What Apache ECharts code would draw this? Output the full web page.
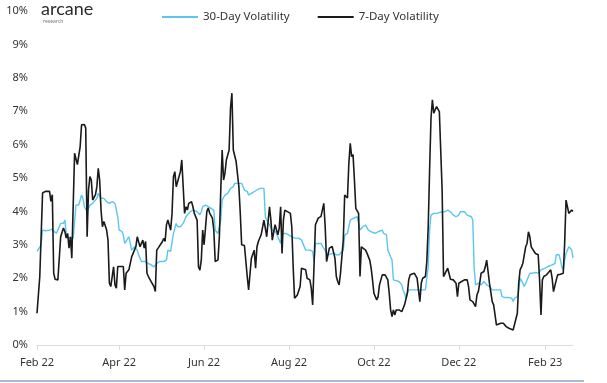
<!DOCTYPE html>
<html>
<head>
<meta charset="utf-8">
<script src="https://cdn.jsdelivr.net/npm/echarts@6/dist/echarts.min.js"></script>
<style>
  html, body { margin: 0; padding: 0; background: #fff; }
  #chart { width: 607px; height: 383px; }
</style>
</head>
<body>
<div id="chart"></div>
<script>
// ---- data ----
const startDate = '2022-02-01';
const dayCount = 386; // 2022-02-01 .. 2023-02-21

const tickDates = ['2022-02-01', '2022-04-01', '2022-06-01', '2022-08-01', '2022-10-01', '2022-12-01', '2023-02-01'];
const tickLabels = ['Feb 22', 'Apr 22', 'Jun 22', 'Aug 22', 'Oct 22', 'Dec 22', 'Feb 23'];

const yTicks = [0, 1, 2, 3, 4, 5, 6, 7, 8, 9, 10];

const seriesNames = ['30-Day Volatility', '7-Day Volatility'];

// day offsets (from startDate) and values (%) for 7-day volatility
const days7 = [0,2,3,4,6,9,10,11,12,13,15,17,18,19,20,21,22,23,24,25,26,27,29,30,31,32,34,35,36,37,38,39,40,42,43,44,45,46,47,48,50,51,52,53,55,56,57,58,60,62,63,64,66,67,68,70,71,72,74,76,77,78,79,80,82,83,84,85,86,87,90,91,92,93,94,96,97,98,99,100,101,103,104,105,106,107,108,109,111,112,113,115,116,117,118,119,120,121,122,123,124,125,126,127,128,130,131,132,133,134,135,136,137,138,139,140,141,142,143,145,146,147,149,150,151,152,154,155,156,157,158,159,161,163,164,165,167,168,169,170,171,173,174,175,176,177,178,179,182,183,184,185,187,189,190,191,193,194,196,197,198,199,200,201,202,204,205,206,207,208,209,210,212,213,214,215,216,217,218,219,220,221,222,223,224,225,226,227,228,229,230,231,232,233,234,236,237,239,240,241,242,244,245,246,247,248,250,252,253,254,255,256,257,258,259,260,262,263,264,266,267,268,269,271,272,273,274,275,276,277,279,280,281,282,283,284,285,286,287,288,289,291,292,293,295,297,299,301,302,303,304,305,307,308,309,310,311,312,313,315,316,317,318,319,321,322,323,324,325,326,327,328,329,330,331,333,334,335,336,337,339,340,342,343,345,346,347,348,349,351,352,353,354,355,356,358,360,361,362,363,364,366,367,369,370,371,372,373,374,376,378,379,380,381,382,383,384,385];
const vol7 = [0.95,2.05,2.1,4.55,4.6,4.6,4.3,4.5,2.15,1.97,1.95,3.24,3.24,3.5,3.4,3.2,3.34,2.9,3.24,2.6,2.55,5.74,5.4,5.35,5.94,6.59,6.6,6.5,3.24,4.64,5.04,4.94,4.34,4.5,4.74,5.29,4.94,4.04,3.54,3.7,3.44,3.14,1.85,1.75,2.34,1.8,1.7,2.35,2.35,2.35,1.65,2.15,2.25,2.2,2.64,2.84,2.94,3.24,2.94,3.14,2.9,3.1,2.15,2.05,1.9,1.85,1.75,1.6,2.84,2.9,3.09,3.19,3.1,3.6,3.74,3.44,3.94,5.04,5.19,4.74,4.7,5.19,5.54,5.59,3.94,4.14,4.04,4.24,4.29,4.14,3.94,3.74,2.34,2.24,2.54,3.44,3.0,3.5,4.0,4.1,3.95,4.0,3.8,3.44,2.5,2.55,3.24,4.64,5.84,4.94,5.14,5.54,5.69,5.84,7.1,7.54,5.84,5.8,5.5,4.74,3.95,3.0,2.98,2.94,2.05,1.65,2.6,2.55,2.84,2.3,2.94,3.1,3.3,3.74,3.5,3.24,4.14,3.74,3.14,3.1,3.6,3.3,3.5,4.14,2.74,3.74,4.04,4.0,3.94,3.54,2.34,1.4,1.5,1.75,2.3,2.3,2.25,2.0,1.95,1.7,1.2,1.15,3.6,3.65,3.8,3.85,3.9,4.24,3.54,2.5,2.7,2.9,2.95,2.96,2.6,2.05,1.9,1.8,2.15,2.1,3.14,4.49,4.45,4.4,5.44,6.04,5.64,5.7,4.94,4.09,4.04,3.94,2.05,2.94,2.9,2.84,2.75,2.54,2.3,1.95,1.55,1.35,1.45,1.8,1.95,2.1,2.1,1.95,1.55,1.05,0.85,1.05,0.9,1.05,1.0,1.05,1.0,1.1,1.2,1.55,1.95,2.1,2.12,2.15,2.15,2.0,1.95,1.3,1.85,2.0,2.05,2.5,3.54,5.24,6.79,7.34,6.94,6.94,7.14,7.1,6.99,4.64,2.05,2.05,2.3,1.97,1.95,1.85,1.45,1.85,1.85,1.9,1.95,1.9,1.95,1.75,1.35,1.33,1.3,1.15,1.5,1.6,1.85,2.15,2.2,2.34,2.54,2.2,1.85,1.8,1.3,1.2,1.15,0.6,0.6,0.65,0.6,0.65,0.6,0.55,0.5,0.45,0.45,0.5,0.95,1.85,2.25,2.34,2.45,2.94,3.04,3.39,3.24,2.94,2.94,2.74,2.7,1.95,0.9,1.95,2.05,2.1,2.15,2.25,2.0,1.6,1.55,1.95,2.1,2.12,2.15,3.04,4.34,4.3,3.94,3.9,4.04,4.0];

// day offsets (from startDate) and values (%) for 30-day volatility
const days30 = [0,1,3,4,6,9,11,12,14,15,17,18,19,20,21,22,24,25,26,28,30,31,32,33,34,36,37,38,40,43,44,45,46,48,49,50,52,54,56,57,58,59,61,62,63,64,66,67,68,69,70,71,72,73,75,78,80,82,84,86,88,91,93,94,96,97,98,100,101,103,105,107,108,110,112,115,116,117,118,119,121,122,123,124,125,127,128,130,131,132,133,134,135,137,139,141,142,145,147,148,149,151,152,153,154,155,158,160,163,164,165,166,167,169,171,172,173,175,176,177,179,180,183,185,188,190,191,193,196,198,199,200,204,205,206,207,209,210,213,215,217,218,220,221,223,224,225,227,228,230,231,232,233,234,236,237,238,240,243,245,246,248,249,251,252,254,255,256,257,260,262,263,264,265,266,267,272,276,279,280,281,282,283,285,287,288,291,293,295,297,299,301,303,304,307,309,310,312,313,314,315,317,318,319,321,322,323,324,325,327,329,331,333,334,336,339,341,342,343,345,346,347,348,349,350,351,352,354,356,358,360,362,365,367,370,372,373,375,376,377,378,379,380,382,383,384,385];
const vol30 = [2.8,2.85,3.0,3.44,3.42,3.44,3.47,3.4,3.35,3.4,3.64,3.69,3.64,3.74,3.35,3.24,3.2,3.24,3.2,4.19,4.19,4.24,4.49,4.39,4.14,3.99,4.09,4.19,4.24,4.39,4.54,4.5,4.39,4.39,4.34,4.29,4.24,4.29,4.24,4.24,3.84,3.44,3.4,3.3,3.04,3.04,3.24,3.2,2.84,2.8,2.94,2.94,2.84,2.7,2.5,2.5,2.44,2.4,2.34,2.44,2.5,2.5,2.54,2.84,2.8,2.8,3.34,3.64,3.55,3.54,3.64,3.84,3.88,3.99,4.04,3.99,3.94,3.9,3.99,4.14,4.19,4.24,4.14,4.14,4.09,4.04,3.44,3.34,3.3,3.74,4.34,4.39,4.49,4.54,4.69,4.74,4.84,4.84,4.84,4.74,4.64,4.6,4.49,4.44,4.54,4.59,4.64,4.69,4.69,3.84,3.74,3.79,3.6,3.44,3.4,3.34,3.24,3.04,3.34,3.39,3.34,3.3,3.24,3.2,3.2,3.14,3.15,2.84,2.84,2.8,2.5,3.04,3.04,2.99,2.89,2.94,2.7,2.75,2.75,2.7,2.7,2.75,2.84,3.29,3.34,3.34,3.74,3.79,3.79,3.84,3.84,3.44,3.39,3.54,3.59,3.54,3.44,3.39,3.34,3.39,3.44,3.44,3.34,3.3,2.84,2.64,2.55,1.95,1.95,1.9,1.8,1.64,1.55,1.4,1.55,1.65,1.65,1.65,1.65,1.7,2.34,3.44,3.89,3.94,3.94,3.99,3.99,3.99,4.04,3.99,3.89,3.84,3.89,3.99,3.99,3.89,3.89,3.84,3.74,2.3,1.8,1.85,1.83,1.8,1.9,1.9,1.8,1.8,1.75,1.65,1.65,1.65,1.65,1.45,1.42,1.42,1.4,1.3,1.4,1.45,1.65,2.0,1.95,1.85,1.75,1.85,1.85,2.15,2.15,2.17,2.15,2.25,2.3,2.35,2.4,2.44,2.7,2.7,2.54,2.34,2.25,2.54,2.74,2.94,2.89,2.85,2.6];

// ---- build ----
function pad(n) { return n < 10 ? '0' + n : '' + n; }
const categories = [];
(function () {
  const p = startDate.split('-').map(Number);
  for (let i = 0; i < dayCount; i++) {
    const d = new Date(Date.UTC(p[0], p[1] - 1, p[2] + i));
    categories.push(d.getUTCFullYear() + '-' + pad(d.getUTCMonth() + 1) + '-' + pad(d.getUTCDate()));
  }
})();
const isTick = (idx, val) => tickDates.indexOf(val) >= 0;

const data7 = days7.map((d, i) => [d, vol7[i]]);
const data30 = days30.map((d, i) => [d, vol30[i]]);

const chart = echarts.init(document.getElementById('chart'), null, { renderer: 'canvas' });
const FONT = 'Noto Sans';
chart.setOption({
  animation: false,
  backgroundColor: '#ffffff',
  textStyle: { fontFamily: FONT },
  grid: { left: 37, right: 34, top: 11, bottom: 38, containLabel: false },
  legend: {
    left: 157, top: 6,
    itemWidth: 36, itemHeight: 2, itemGap: 28,
    icon: 'rect',
    textStyle: { fontFamily: FONT, fontSize: 11.5, color: '#333' },
    data: seriesNames
  },
  graphic: [
    { type: 'text', left: 41, top: 0, style: { text: 'arcane', fontFamily: 'Lato', fontSize: 18, fontWeight: 'normal', fill: '#2b2b2b' } },
    { type: 'text', left: 43, top: 19, style: { text: 'research', fontFamily: FONT, fontSize: 5, fill: '#777' } },
    { type: 'rect', left: 0, top: 380, shape: { width: 584, height: 2 }, style: { fill: '#a7bbd4' } }
  ],
  xAxis: {
    type: 'category',
    data: categories,
    boundaryGap: false,
    axisLine: { lineStyle: { color: '#dcdcdc', width: 1 } },
    axisTick: { show: true, interval: isTick, length: 5, lineStyle: { color: '#dcdcdc' } },
    axisLabel: {
      interval: isTick,
      margin: 12,
      fontSize: 11,
      color: '#333',
      fontFamily: FONT,
      formatter: v => tickLabels[tickDates.indexOf(v)] || ''
    },
    splitLine: { show: false }
  },
  yAxis: {
    type: 'value',
    min: yTicks[0], max: yTicks[yTicks.length - 1], interval: 1,
    axisLine: { show: false },
    axisTick: { show: false },
    splitLine: { show: false },
    axisLabel: { formatter: '{value}%', fontSize: 11, color: '#333', margin: 9, fontFamily: FONT }
  },
  series: [
    {
      name: seriesNames[0], type: 'line', data: data30, symbol: 'none',
      lineStyle: { color: '#5cc6ef', width: 1.4 }, itemStyle: { color: '#5cc6ef' }, z: 2
    },
    {
      name: seriesNames[1], type: 'line', data: data7, symbol: 'none',
      lineStyle: { color: '#1a1a1a', width: 1.6 }, itemStyle: { color: '#1a1a1a' }, z: 3
    }
  ]
});
</script>
</body>
</html>
